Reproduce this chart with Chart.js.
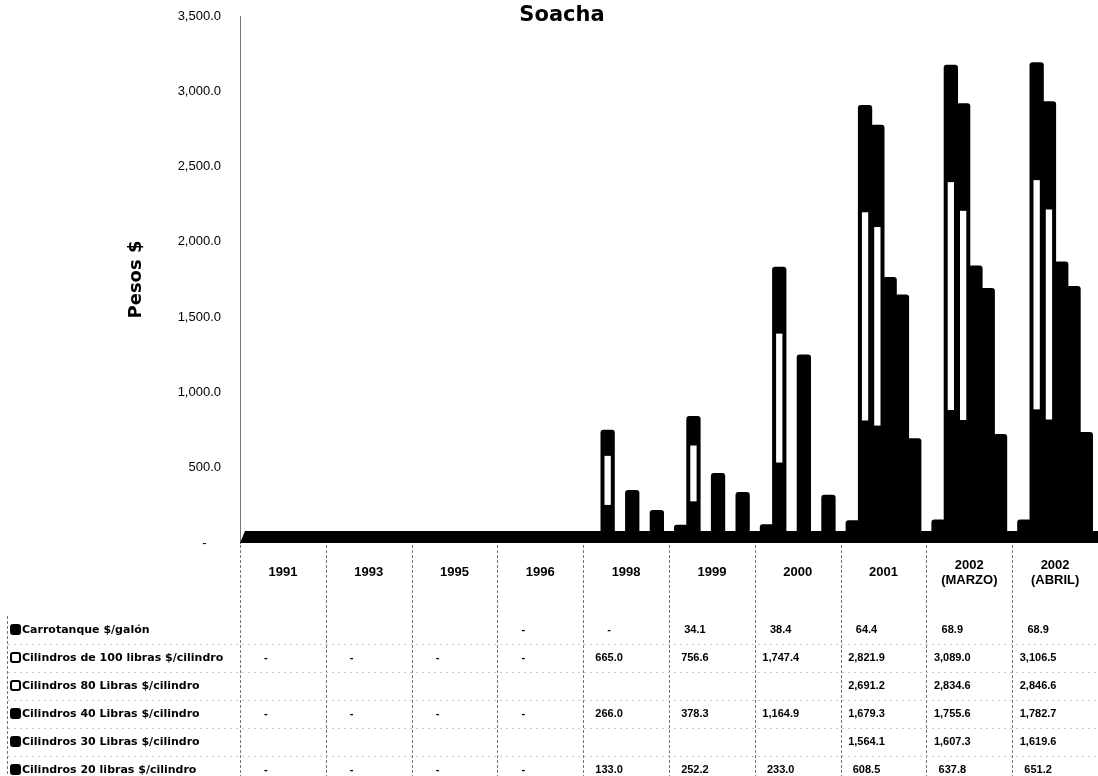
<!DOCTYPE html>
<html>
<head>
<meta charset="utf-8">
<script src="https://cdn.jsdelivr.net/npm/chart.js@4.4.1/dist/chart.umd.min.js"></script>
<style>
  html, body { margin: 0; padding: 0; background: #fff; }
  #wrap { width: 1098px; height: 776px; position: relative; }
</style>
</head>
<body>
<div id="wrap"><canvas id="c" width="1098" height="776"></canvas></div>
<script>
// ---- data ----
const chartTitle = 'Soacha';
const yAxisTitle = 'Pesos $';
const categories = ['1991', '1993', '1995', '1996', '1998', '1999', '2000', '2001', ['2002', '(MARZO)'], ['2002', '(ABRIL)']];
const seriesNames = [
  'Carrotanque $/galón',
  'Cilindros de 100 libras $/cilindro',
  'Cilindros 80 Libras $/cilindro',
  'Cilindros 40 Libras $/cilindro',
  'Cilindros 30 Libras $/cilindro',
  'Cilindros 20 libras $/cilindro'
];
const carrotanque = [null, null, null, 0, 0, 34.1, 38.4, 64.4, 68.9, 68.9];
const cil100 = [0, 0, 0, 0, 665.0, 756.6, 1747.4, 2821.9, 3089.0, 3106.5];
const cil80 = [null, null, null, null, null, null, null, 2691.2, 2834.6, 2846.6];
const cil40 = [0, 0, 0, 0, 266.0, 378.3, 1164.9, 1679.3, 1755.6, 1782.7];
const cil30 = [null, null, null, null, null, null, null, 1564.1, 1607.3, 1619.6];
const cil20 = [0, 0, 0, 0, 133.0, 252.2, 233.0, 608.5, 637.8, 651.2];
const yMax = 3500;
const yStep = 500;

// ---- styles ----
const seriesValues = [carrotanque, cil100, cil80, cil40, cil30, cil20];
const keyFills = ['#000', '#fff', '#fff', '#000', '#000', '#000'];
const stripped = [false, true, true, false, false, false];
const floorDepth = 80; // depth of the 3D floor, in axis units (as in the original 3-D chart)
const nameFont = 'bold 11px "DejaVu Sans", sans-serif';
const valueFont = 'bold 11px "Liberation Sans", Arial, sans-serif';
const titleFont = 'bold 21px "DejaVu Sans", sans-serif';

function fmt(v) {
  return v.toLocaleString('en-US', { minimumFractionDigits: 1, maximumFractionDigits: 1 });
}

const datasets = seriesNames.map((name, i) => ({
  label: name,
  data: seriesValues[i],
  yAxisID: 'yBars',
  backgroundColor: '#000',
  borderColor: '#000',
  borderWidth: 0,
  inflateAmount: (c) => (c.parsed && c.parsed.y ? 1 : 0),
  borderRadius: { topLeft: 3, topRight: 3 },
  borderSkipped: 'start'
}));

const tablePlugin = {
  id: 'dataTable',
  beforeDatasetsDraw(chart) {
    // 3D-style floor band along the base
    const { ctx, chartArea, scales: { y, yBars } } = chart;
    const base = y.getPixelForValue(0);
    const floorTop = yBars.getPixelForValue(0);
    ctx.save();
    ctx.fillStyle = '#000';
    ctx.beginPath();
    ctx.moveTo(chartArea.left, base);
    ctx.lineTo(chartArea.left + 5, floorTop);
    ctx.lineTo(chartArea.right, floorTop);
    ctx.lineTo(chartArea.right, base);
    ctx.closePath();
    ctx.fill();
    ctx.restore();
  },
  afterDatasetDraw(chart, args) {
    // white highlight strip inside the 100 lb / 80 lb bars
    if (!stripped[args.index]) return;
    const ctx = chart.ctx;
    ctx.save();
    ctx.fillStyle = '#fff';
    args.meta.data.forEach((el) => {
      const p = el.getProps(['x', 'y', 'base', 'width'], true);
      const h = p.base - p.y;
      if (!(h > 4)) return;
      ctx.fillRect(p.x - p.width / 2 + 3, p.y + 0.25 * h, p.width - 6, 0.49 * h);
    });
    ctx.restore();
  },
  afterDraw(chart) {
    const { ctx, chartArea, scales: { x } } = chart;
    const H = chart.height;
    const top = x.bottom;
    const rowH = 28;
    const firstCenter = top + 30;
    const step = x.getPixelForValue(1) - x.getPixelForValue(0);
    ctx.save();
    // title
    ctx.fillStyle = '#000';
    ctx.font = titleFont;
    ctx.textAlign = 'center';
    ctx.textBaseline = 'middle';
    ctx.fillText(chartTitle, chart.width / 2 + 13, 16);
    // vertical column separators
    ctx.strokeStyle = '#777';
    ctx.lineWidth = 1;
    ctx.setLineDash([3, 2]);
    for (let i = 0; i < categories.length; i++) {
      const xb = Math.round(x.getPixelForValue(i) - step / 2) + 0.5;
      ctx.beginPath();
      ctx.moveTo(xb, chartArea.bottom + 2);
      ctx.lineTo(xb, H);
      ctx.stroke();
    }
    // legend column left border
    ctx.beginPath();
    ctx.moveTo(7.5, firstCenter - 14);
    ctx.lineTo(7.5, H);
    ctx.stroke();
    // faint row separators
    ctx.strokeStyle = '#c8c8c8';
    ctx.setLineDash([2, 4]);
    for (let r = 1; r < seriesNames.length; r++) {
      const yy = Math.round(firstCenter + (r - 0.5) * rowH) + 0.5;
      ctx.beginPath();
      ctx.moveTo(8, yy);
      ctx.lineTo(chartArea.right, yy);
      ctx.stroke();
    }
    ctx.setLineDash([]);
    // rows
    ctx.textBaseline = 'middle';
    seriesNames.forEach((name, r) => {
      const cy = firstCenter + r * rowH;
      ctx.fillStyle = keyFills[r];
      ctx.strokeStyle = '#000';
      ctx.lineWidth = 2;
      ctx.beginPath();
      ctx.roundRect(11, cy - 5, 9, 9, 2);
      ctx.fill();
      ctx.stroke();
      ctx.fillStyle = '#000';
      ctx.textAlign = 'left';
      ctx.font = nameFont;
      ctx.fillText(name, 22, cy);
      ctx.textAlign = 'center';
      ctx.font = valueFont;
      seriesValues[r].forEach((v, i) => {
        if (v === null || v === undefined) return;
        const txt = v === 0 ? '-' : fmt(v);
        ctx.fillText(txt, x.getPixelForValue(i) - 17, cy);
      });
    });
    ctx.restore();
  }
};

new Chart(document.getElementById('c'), {
  type: 'bar',
  data: { labels: categories, datasets },
  options: {
    responsive: false,
    animation: false,
    events: [],
    layout: { padding: { left: 0, right: 0, top: 16, bottom: 176 } },
    datasets: { bar: { categoryPercentage: 0.86, barPercentage: 1.0 } },
    plugins: {
      legend: { display: false },
      tooltip: { enabled: false },
      title: { display: false }
    },
    scales: {
      x: {
        grid: { display: false },
        border: { display: false },
        ticks: {
          color: '#000',
          font: { family: '"Liberation Sans", Arial, sans-serif', size: 13, weight: 'bold' },
          maxRotation: 0,
          autoSkip: false,
          crossAlign: 'center',
          padding: 14
        },
        afterFit: (s) => { s.height = 57; }
      },
      y: {
        min: 0,
        max: yMax,
        grid: { display: false, drawTicks: true, tickLength: 16 },
        border: { display: true, color: '#777', dash: [3, 2], width: 1 },
        ticks: {
          stepSize: yStep,
          color: '#000',
          padding: 3,
          font: { family: '"Liberation Sans", Arial, sans-serif', size: 13 },
          callback: (v) => v === 0 ? '-    ' : fmt(v)
        },
        title: {
          display: true,
          text: yAxisTitle,
          color: '#000',
          font: { family: '"DejaVu Sans", sans-serif', size: 18, weight: 'bold' },
          padding: { top: 126, bottom: 0 }
        },
        afterFit: (s) => { s.width = 240; }
      },
      yBars: {
        display: false,
        min: -floorDepth,
        max: yMax - floorDepth
      }
    }
  },
  plugins: [tablePlugin]
});
</script>
</body>
</html>
